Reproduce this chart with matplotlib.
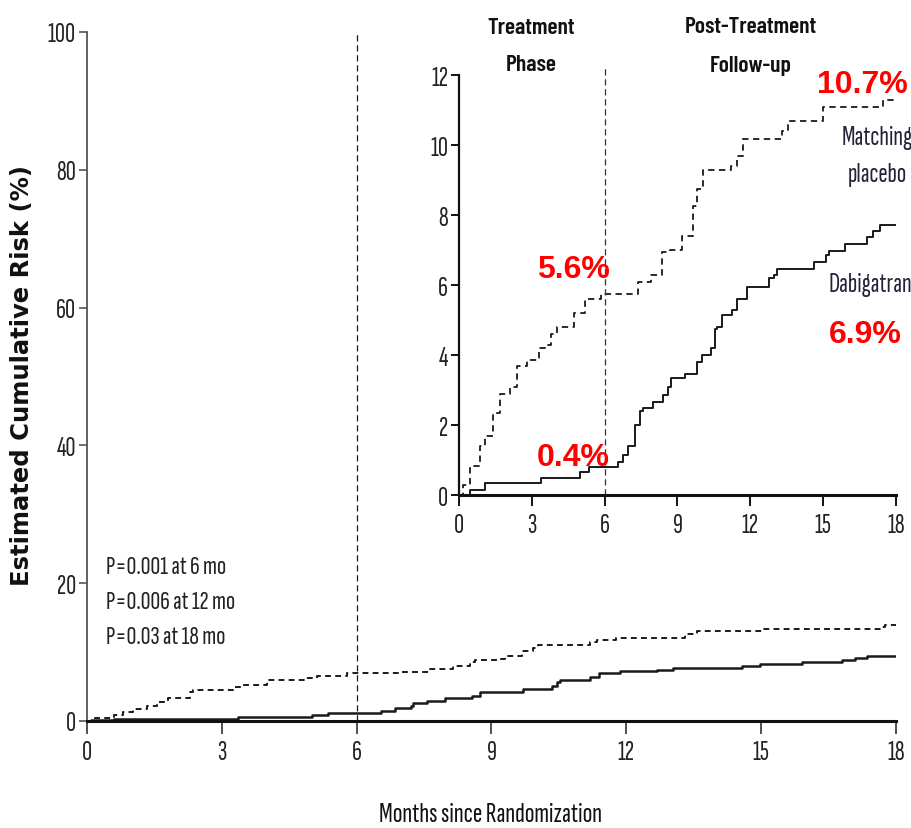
import matplotlib
matplotlib.use("Agg")
import matplotlib.pyplot as plt

# Kaplan-Meier style cumulative risk, full follow-up (months, %)
placebo_months = [0, 0.18, 0.59, 0.8, 1.03, 1.33, 1.55, 1.8, 2.29, 2.36, 3.3, 3.47, 4.0, 4.6, 4.88, 5.11,
                  5.78, 6.96, 7.63, 8.15, 8.52, 8.63, 9.19, 9.3, 9.67, 9.93, 10.04, 11.2, 11.34, 11.78,
                  13.3, 13.57, 14.9, 15.04, 17.68, 17.76, 18.0]
placebo_risk = [0, 0.5, 0.87, 1.26, 1.7, 2.2, 2.8, 3.4, 4.2, 4.5, 4.9, 5.2, 5.9, 6.0, 6.3, 6.6,
                6.9, 7.07, 7.56, 8.0, 8.6, 8.9, 9.0, 9.5, 10.1, 10.6, 11.05, 11.4, 11.7, 12.1,
                12.6, 13.0, 13.1, 13.3, 13.6, 13.9, 13.9]

dabi_months = [0, 0.1, 0.6, 3.37, 5.0, 5.37, 6.55, 6.85, 7.22, 7.26, 7.56, 7.97, 8.56, 8.75, 9.7,
               10.34, 10.45, 10.52, 11.19, 11.4, 11.86, 12.68, 13.04, 14.57, 14.97, 15.9, 16.8,
               17.09, 17.35, 18.0]
dabi_risk = [0, 0.15, 0.25, 0.53, 0.87, 1.1, 1.5, 1.84, 2.2, 2.6, 2.96, 3.4, 3.7, 4.2, 4.65,
             5.1, 5.7, 5.96, 6.35, 6.9, 7.2, 7.46, 7.7, 8.0, 8.3, 8.6, 8.87, 9.1, 9.4, 9.4]

# zoomed inset curves
inset_placebo_months = [0, 0.18, 0.46, 0.87, 1.08, 1.42, 1.7, 2.1, 2.4, 2.8, 3.3, 3.55, 3.8, 4.05,
                        4.75, 5.2, 5.85, 7.37, 7.9, 8.35, 8.7, 9.2, 9.65, 9.8, 10.05, 11.2, 11.45,
                        11.7, 13.3, 13.55, 15.0, 17.45, 17.9]
inset_placebo_risk = [0, 0.3, 0.83, 1.4, 1.7, 2.35, 2.9, 3.1, 3.7, 3.85, 4.2, 4.3, 4.6, 4.8,
                      5.2, 5.6, 5.73, 6.1, 6.3, 6.95, 7.0, 7.4, 8.27, 8.74, 9.3, 9.4, 9.7,
                      10.17, 10.4, 10.7, 11.08, 11.3, 11.3]

inset_dabi_months = [0, 0.46, 1.08, 3.36, 5.0, 5.37, 6.54, 6.75, 6.96, 7.23, 7.44, 7.58, 8.0, 8.4,
                     8.62, 8.75, 9.3, 9.8, 10.0, 10.4, 10.55, 10.62, 10.83, 11.24, 11.45, 11.87,
                     12.77, 12.97, 13.11, 14.63, 15.1, 15.26, 15.9, 16.8, 17.07, 17.34, 18.0]
inset_dabi_risk = [0, 0.14, 0.33, 0.5, 0.65, 0.8, 0.95, 1.15, 1.4, 2.0, 2.4, 2.5, 2.65, 2.85,
                   3.1, 3.35, 3.45, 3.8, 4.0, 4.2, 4.75, 4.8, 5.15, 5.3, 5.6, 5.95,
                   6.2, 6.3, 6.45, 6.65, 6.85, 6.98, 7.17, 7.36, 7.55, 7.71, 7.71]

month_ticks = [0, 3, 6, 9, 12, 15, 18]
main_yticks = [0, 20, 40, 60, 80, 100]
inset_yticks = [0, 2, 4, 6, 8, 10, 12]

p_values = ["P=0.001 at 6 mo", "P=0.006 at 12 mo", "P=0.03 at 18 mo"]
# value, label centre in pixels (x, y from top)
inset_labels = [(5.6, 573, 270), (0.4, 573, 458), (10.7, 862, 85), (6.9, 865, 335)]

W, H = 912, 829
narrow = ["Sofia Sans Extra Condensed", "DejaVu Sans"]
narrow_bold = ["Barlow Condensed", "Fira Sans Extra Condensed", "DejaVu Sans"]
ink = "#1a1a1a"


def fx(px):
    return px / W


def fy(py):
    return 1 - py / H


fig = plt.figure(figsize=(W / 100, H / 100), dpi=100)

# ---- main panel ----
ax = fig.add_axes([fx(87), fy(722), fx(896) - fx(87), fy(33) - fy(722)])
ax.set_xlim(0, 18)
ax.set_ylim(0, 100)
ax.step(placebo_months, placebo_risk, where="post", color=ink, lw=1.4, ls=(0, (3, 2.2)))
ax.step(dabi_months, dabi_risk, where="post", color=ink, lw=1.8)
ax.plot([6, 6], [0, 100], color=ink, lw=0.9, ls=(0, (5, 3)))

for s in ["top", "right"]:
    ax.spines[s].set_visible(False)
ax.spines["left"].set_color("#555555")
ax.spines["left"].set_linewidth(1.3)
ax.spines["bottom"].set_color("#111111")
ax.spines["bottom"].set_linewidth(2.2)
ax.set_xticks(month_ticks)
ax.set_yticks(main_yticks)
ax.tick_params(axis="x", length=9, width=1.2, color="#333333", pad=5)
ax.tick_params(axis="y", length=6, width=1.2, color="#555555", pad=2)
for lab in ax.get_xticklabels() + ax.get_yticklabels():
    lab.set_family(narrow)
    lab.set_fontsize(20)
    lab.set_color("#222222")

for i, txt in enumerate(p_values):
    fig.text(fx(106), fy(568 + 35 * i), txt, family=narrow, fontsize=19.5,
             color="#222222", ha="left", va="center")

fig.text(fx(491), fy(815), "Months since Randomization", family=narrow, fontsize=20.5,
         color="#111111", ha="center", va="center")
fig.text(fx(22), fy(376), "Estimated Cumulative Risk (%)", family="DejaVu Sans",
         fontweight="bold", fontsize=17.5, color="#111111", rotation=90,
         ha="center", va="center")

# ---- inset: zoomed 0-12% ----
ins = fig.add_axes([fx(459), fy(496), fx(896) - fx(459), fy(76) - fy(496)])
ins.patch.set_alpha(0)
ins.set_xlim(0, 18)
ins.set_ylim(0, 12)
ins.step(inset_placebo_months, inset_placebo_risk, where="post", color=ink, lw=1.3,
         ls=(0, (3.5, 2.5)))
ins.step(inset_dabi_months, inset_dabi_risk, where="post", color=ink, lw=1.4)
ins.plot([6, 6], [0, 12.3], color="#333333", lw=0.9, ls=(0, (5, 3)), clip_on=False)

for s in ["top", "right"]:
    ins.spines[s].set_visible(False)
ins.spines["left"].set_linewidth(1.6)
ins.spines["left"].set_color("#111111")
ins.spines["bottom"].set_linewidth(2.2)
ins.spines["bottom"].set_color("#111111")
ins.set_xticks(month_ticks)
ins.set_yticks(inset_yticks)
ins.tick_params(axis="x", length=8, width=1.3, pad=5)
ins.tick_params(axis="y", length=6, width=1.3, pad=2)
for lab in ins.get_xticklabels() + ins.get_yticklabels():
    lab.set_family(narrow)
    lab.set_fontsize(20)
    lab.set_color("#222222")

for txt, cx, cy in [("Treatment", 531, 28), ("Phase", 531, 65),
                    ("Post-Treatment", 751, 27), ("Follow-up", 751, 66)]:
    fig.text(fx(cx), fy(cy), txt, family=narrow_bold, fontweight=600, fontsize=17,
             color="#111111", ha="center", va="center")

for txt, cx, cy in [("Matching", 877, 138), ("placebo", 877, 175), ("Dabigatran", 870, 285)]:
    fig.text(fx(cx), fy(cy), txt, family=narrow, fontsize=20, color="#23233a",
             ha="center", va="center")

for value, cx, cy in inset_labels:
    fig.text(fx(cx), fy(cy), f"{value}%", family="Liberation Sans", fontweight="bold",
             fontsize=23, color="#ff0000", ha="center", va="center")

fig.savefig("out.png", dpi=100, facecolor="white")
